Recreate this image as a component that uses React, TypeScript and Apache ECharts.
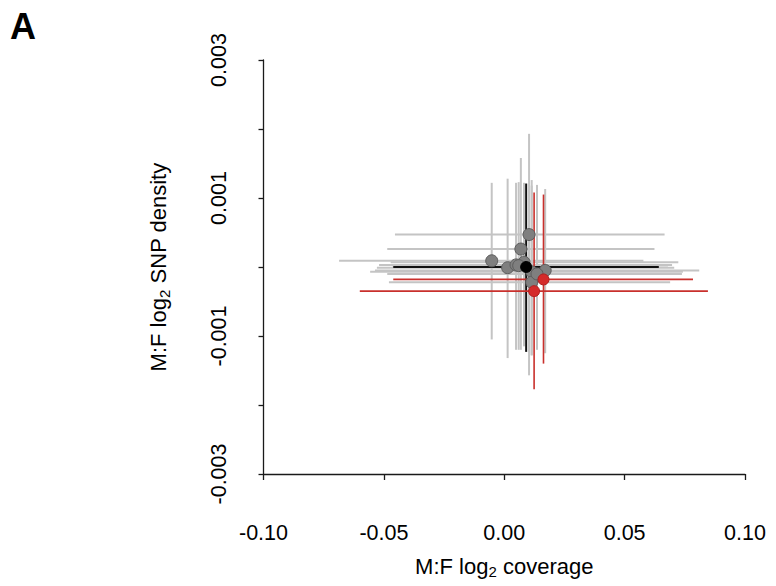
import React, { useEffect, useRef } from "react";
import * as echarts from "echarts";

// Grey (other samples)
const greyX = [0.0103, 0.0069, -0.0052, 0.0014, 0.0049, 0.0114, 0.017, 0.0114, 0.0136, 0.0082, 0.006];
const greyY = [0.00047, 0.00026, 0.00009, -0.00001, 0.00003, -0.00007, -0.00005, -0.00022, -0.0001, 0.00007, 0.00002];
const greyXLo = [-0.0454, -0.0486, -0.0686, -0.0529, -0.052, -0.0557, -0.0537, -0.0479, -0.0486, -0.0472, -0.0465];
const greyXHi = [0.0666, 0.0624, 0.0578, 0.0706, 0.0697, 0.0742, 0.081, 0.0689, 0.0738, 0.0723, 0.068];
const greyYLo = [-0.00157, -0.0012, -0.00105, -0.00132, -0.0012, -0.00128, -0.00125, -0.00128, -0.0012, -0.00115, -0.0012];
const greyYHi = [0.00193, 0.00158, 0.00122, 0.00128, 0.00122, 0.00126, 0.00113, 0.00118, 0.00119, 0.00122, 0.00123];

// Black (reference)
const blackX = [0.0091];
const blackY = [0.0];
const blackXLo = [-0.0461];
const blackXHi = [0.0642];
const blackYLo = [-0.00123];
const blackYHi = [0.00121];

// Red
const redX = [0.0163, 0.0124];
const redY = [-0.00018, -0.00035];
const redXLo = [-0.0461, -0.06];
const redXHi = [0.0784, 0.0846];
const redYLo = [-0.0014, -0.00177];
const redYHi = [0.00105, 0.00108];

const FONT = "'Liberation Sans', Arial, sans-serif";

function rows(xs: number[], ys: number[], xlo: number[], xhi: number[], ylo: number[], yhi: number[]) {
  return xs.map((x, i) => [x, ys[i], xlo[i], xhi[i], ylo[i], yhi[i]]);
}

function barRenderer(color: string, width: number) {
  return (params: any, api: any) => {
    const x = api.value(0);
    const y = api.value(1);
    const a = api.coord([api.value(2), y]);
    const b = api.coord([api.value(3), y]);
    const c = api.coord([x, api.value(4)]);
    const d = api.coord([x, api.value(5)]);
    return {
      type: "group",
      children: [
        { type: "line", shape: { x1: a[0], y1: a[1], x2: b[0], y2: b[1] }, style: { stroke: color, lineWidth: width } },
        { type: "line", shape: { x1: c[0], y1: c[1], x2: d[0], y2: d[1] }, style: { stroke: color, lineWidth: width } },
      ],
    };
  };
}

export default function App() {
  const ref = useRef<HTMLDivElement>(null);
  useEffect(() => {
    if (!ref.current) return;
    const chart = echarts.init(ref.current, undefined, { renderer: "svg" });
    const greyRows = rows(greyX, greyY, greyXLo, greyXHi, greyYLo, greyYHi);
    const blackRows = rows(blackX, blackY, blackXLo, blackXHi, blackYLo, blackYHi);
    const redRows = rows(redX, redY, redXLo, redXHi, redYLo, redYHi);
    const custom = (data: number[][], color: string, width: number) => ({
      type: "custom",
      renderItem: barRenderer(color, width),
      data,
      encode: { x: 0, y: 1 },
      silent: true,
      z: 2,
    });
    const scatter = (data: number[][], color: string, border: string, size: number) => ({
      type: "scatter",
      data: data.map((r) => [r[0], r[1]]),
      symbolSize: size,
      itemStyle: { color, borderColor: border, borderWidth: 1, opacity: 1 },
      z: 3,
    });
    const titleRich = {
      m: { fontSize: 22, color: "#000", lineHeight: 26, fontFamily: FONT },
      s: { fontSize: 15, color: "#000", lineHeight: 15, verticalAlign: "bottom", fontFamily: FONT },
    };
    chart.setOption({
      animation: false,
      backgroundColor: "#ffffff",
      textStyle: { fontFamily: FONT },
      grid: { left: 263.5, right: 31, top: 60, bottom: 112, containLabel: false },
      xAxis: {
        type: "value",
        min: -0.1,
        max: 0.1,
        interval: 0.05,
        splitLine: { show: false },
        axisLine: { show: true, onZero: false, lineStyle: { color: "#1a1a1a", width: 1.3 } },
        axisTick: { show: true, length: 6, lineStyle: { color: "#1a1a1a", width: 1.3 } },
        axisLabel: { fontSize: 21.5, color: "#000", margin: 48, fontFamily: FONT, formatter: (v: number) => v.toFixed(2) },
        name: "{m|M:F log}{s|2}{m| coverage}",
        nameLocation: "middle",
        nameGap: 79,
        nameTextStyle: { fontFamily: FONT, rich: titleRich },
      },
      yAxis: {
        type: "value",
        min: -0.003,
        max: 0.003,
        interval: 0.001,
        splitLine: { show: false },
        axisLine: { show: true, onZero: false, lineStyle: { color: "#1a1a1a", width: 1.3 } },
        axisTick: { show: true, length: 5, lineStyle: { color: "#1a1a1a", width: 1.3 } },
        axisLabel: {
          fontSize: 21.5,
          color: "#000",
          rotate: 90,
          margin: 34,
          fontFamily: FONT,
          formatter: (v: number) => {
            const k = Math.round(v * 1000);
            return k % 2 !== 0 ? v.toFixed(3) : "";
          },
        },
        name: "{m|M:F log}{s|2}{m| SNP density}",
        nameLocation: "middle",
        nameGap: 92,
        nameRotate: 90,
        nameTextStyle: { fontFamily: FONT, rich: titleRich },
      },
      graphic: [
        {
          type: "text",
          left: 10,
          top: 8,
          style: { text: "A", fontSize: 36, fontWeight: "bold", fill: "#000", fontFamily: FONT },
        },
      ],
      series: [
        custom(greyRows, "#c4c4c4", 2),
        scatter(greyRows, "#7f7f7f", "#5c5c5c", 12),
        custom(blackRows, "#111111", 2),
        scatter(blackRows, "#000000", "#000000", 11),
        custom(redRows, "#c9302c", 1.6),
        scatter(redRows, "#d42a2a", "#b02020", 11),
      ],
    });
    return () => chart.dispose();
  }, []);
  return <div ref={ref} style={{ position: "fixed", left: 0, top: 0, width: 776, height: 586 }} />;
}
